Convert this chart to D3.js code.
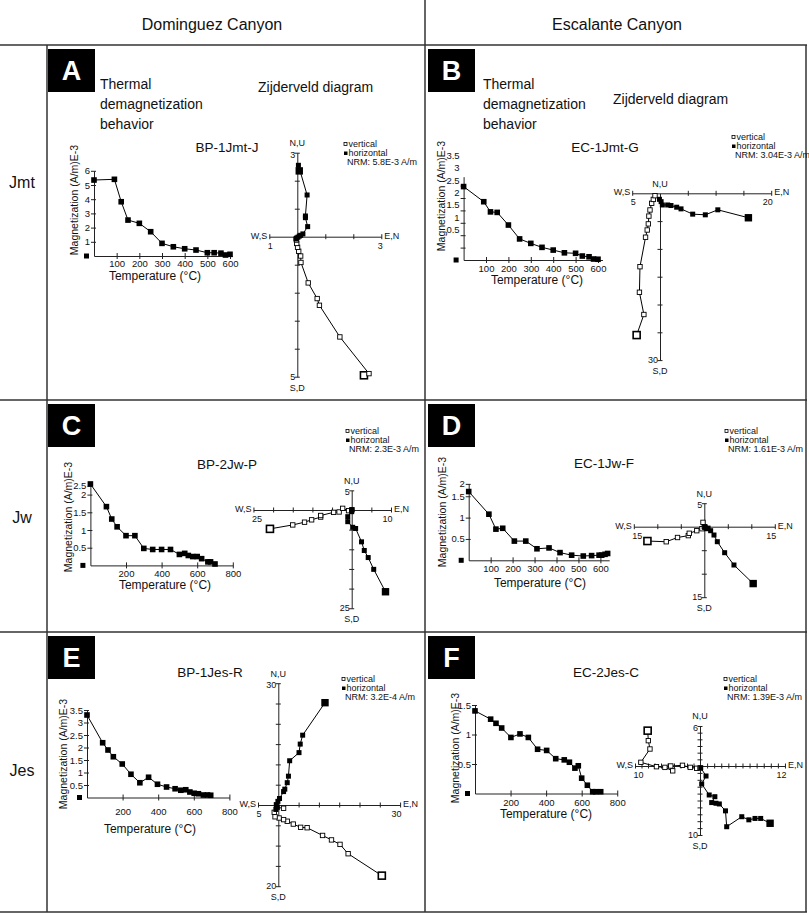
<!DOCTYPE html>
<html>
<head>
<meta charset="utf-8">
<script src="https://cdn.jsdelivr.net/npm/d3@7"></script>
<style>
  body { margin: 0; background: #fff; }
  svg { display: block; }
  text { font-family: 'Liberation Sans', Arial, sans-serif; fill: #111; }
</style>
</head>
<body>
<div id="chart"></div>
<script>
// Thermal demagnetization steps (°C) and magnetization (A/m E-3).
const tempA = [0, 90, 120, 150, 200, 250, 300, 350, 400, 450, 500, 530, 560, 580, 600];
const magA  = [5.35, 5.4, 3.82, 2.53, 2.3, 1.71, 0.89, 0.65, 0.51, 0.42, 0.23, 0.23, 0.2, 0.07, 0.12];
const tempB = [0, 90, 120, 150, 200, 250, 300, 350, 400, 450, 500, 530, 560, 580, 600];
const magB  = [2.96, 2.35, 1.94, 1.92, 1.41, 0.85, 0.67, 0.51, 0.4, 0.29, 0.27, 0.16, 0.13, 0.04, 0.03];
const tempC = [0, 90, 120, 150, 200, 250, 300, 350, 400, 450, 500, 530, 550, 575, 600, 625, 660, 675, 700];
const magC  = [2.3, 1.66, 1.31, 1.09, 0.84, 0.84, 0.48, 0.45, 0.45, 0.45, 0.31, 0.34, 0.28, 0.25, 0.25, 0.19, 0.1, 0.1, 0.04];
const tempD = [0, 92, 124, 155, 208, 260, 311, 366, 416, 469, 522, 560, 594, 606, 621, 633];
const magD  = [1.61, 1.08, 0.73, 0.75, 0.45, 0.45, 0.27, 0.29, 0.18, 0.12, 0.1, 0.11, 0.12, 0.12, 0.14, 0.16];
const tempE = [0, 88, 118, 148, 198, 247, 297, 346, 396, 447, 495, 527, 555, 578, 602, 626, 654, 677, 695];
const magE  = [3.3, 2.19, 1.9, 1.63, 1.34, 0.93, 0.59, 0.81, 0.53, 0.42, 0.35, 0.29, 0.31, 0.22, 0.17, 0.15, 0.1, 0.1, 0.09];
const tempF = [0, 88, 118, 150, 202, 253, 300, 352, 403, 454, 502, 531, 562, 581, 600, 632, 662, 679, 707];
const magF  = [1.4, 1.26, 1.19, 1.11, 0.95, 1.01, 0.95, 0.75, 0.73, 0.59, 0.57, 0.53, 0.43, 0.47, 0.26, 0.14, 0.03, 0.03, 0.03];

// Zijderveld points [E,N ; U,D], first point is the NRM.
const horizA = [[0.07,2.35],[0.04,2.55],[0.35,1.49],[0.29,0.74],[0.29,0.68],[0.37,0.36],[0.2,0.1],[0.12,0.05],[0.07,0.02],[0.02,-0.02],[-0.03,-0.05],[-0.05,-0.08]];
const vertA  = [[2.38,-4.95],[2.56,-4.89],[1.52,-3.58],[0.79,-2.45],[0.71,-2.21],[0.39,-1.65],[0.13,-0.92],[0.12,-0.69],[0.05,-0.52],[0.01,-0.38],[-0.02,-0.24],[-0.03,-0.12]];
const horizB = [[15.9,-4.4],[10.4,-2.97],[8.15,-3.87],[5.88,-3.75],[3.78,-2.8],[3.0,-2.5],[1.98,-2.2],[1.38,-2.1],[0.42,-2.1],[0.2,-1.5],[-0.1,-1.08]];
const vertB  = [[-4.2,-25.5],[-2.9,-21.8],[-3.7,-17.8],[-3.6,-13.2],[-2.6,-7.9],[-2.3,-6.6],[-2.1,-5.5],[-2.0,-4.1],[-1.8,-3.0],[-1.5,-1.8],[-1.2,-1.1],[-0.9,-0.43]];
const horizC = [[8.6,-20.8],[5.6,-15.1],[4.2,-12.1],[3.2,-10.3],[2.5,-8.1],[1.0,-4.7],[0.25,-4.4],[-1.0,-2.97],[-1.0,-1.7],[0,-0.43],[0.1,0.1]];
const vertC  = [[-20.8,-4.8],[-15.0,-3.8],[-12.0,-3.1],[-10.2,-2.5],[-7.9,-1.8],[-7.9,-1.4],[-4.6,-0.6],[-3.2,-0.5],[-2.3,0.42],[-0.8,-0.17],[0,0]];
const horizD = [[10.4,-12.1],[6.31,-8.15],[4.33,-5.53],[2.77,-3.19],[2.06,-1.77],[1.35,-0.85],[0.8,-0.3],[0.5,-0.43],[0.2,-0.05],[0.07,-0.14]];
const vertD  = [[-12.1,-3.05],[-8.1,-3.2],[-5.7,-2.3],[-3.4,-1.9],[-3.2,-1.4],[-1.6,-0.85],[-0.5,-0.43],[-0.28,0.92],[0,0]];
const horizE = [[11.5,25.2],[6.0,17.2],[5.4,15.0],[5.1,12.9],[2.8,10.9],[2.5,7.1],[2.2,5.5],[1.6,3.9],[1.3,3.3],[0.3,1.6],[-0.1,0.9],[-0.5,0.1],[-0.3,-0.5],[-0.6,-1.1]];
const vertE  = [[25.5,-17.4],[17.2,-12.0],[15.2,-9.7],[13.1,-8.6],[10.9,-7.5],[7.1,-5.6],[5.5,-5.5],[3.7,-4.7],[2.2,-4.0],[1.3,-3.6],[0.2,-3.2],[-0.8,-2.9],[-1.0,-1.8],[-0.3,-0.6],[1.3,-0.8]];
const horizF = [[9.9,-8.3],[8.57,-7.6],[7.77,-7.6],[6.9,-7.8],[5.9,-7.35],[3.77,-8.8],[3.6,-6.5],[2.73,-5.5],[2.26,-5.4],[1.65,-5.3],[2.1,-4.45],[1.3,-4.2],[0.24,-2.6],[0.85,-1.45],[0.1,-0.25]];
const vertF  = [[-8.05,5.3],[-7.95,3.8],[-7.7,2.55],[-9.1,0.55],[-6.7,-0.1],[-5.4,-0.2],[-4.2,-0.7],[-4.5,0],[-2.7,0.1],[-1.5,-0.2],[-0.5,-0.33],[0,-0.3]];

// Text.
const siteNames = ['Dominguez Canyon', 'Escalante Canyon'];
const unitNames = ['Jmt', 'Jw', 'Jes'];
const panelLetters = ['A', 'B', 'C', 'D', 'E', 'F'];
const sampleNames = ['BP-1Jmt-J', 'EC-1Jmt-G', 'BP-2Jw-P', 'EC-1Jw-F', 'BP-1Jes-R', 'EC-2Jes-C'];
const nrmLabels = ['NRM: 5.8E-3 A/m', 'NRM: 3.04E-3 A/m', 'NRM: 2.3E-3 A/m', 'NRM: 1.61E-3 A/m', 'NRM: 3.2E-4 A/m', 'NRM: 1.39E-3 A/m'];
// Tick labels.
const xTicksA = [100, 200, 300, 400, 500, 600];
const xTicksC = [200, 400, 600, 800];
const yTicksA = [1, 2, 3, 4, 5, 6];
const yTicksB = [0.5, 1, 1.5, 2, 2.5, 3];
const yLabelsB = ['0.5', '1', '1.5', '2', '2.5', '3', '3.5'];
const yTicksC = [0.5, 1, 1.5, 2, 2.25];
const yLabelsC = ['0.5', '1', '1.5', '2', '2.5'];
const yTicksD = [0.5, 1, 1.5, 1.79];
const yLabelsD = ['0.5', '1', '1.5', '2'];
const yTicksE = [0.5, 1, 1.5, 2, 2.5, 3, 3.5];
const yTicksF = [0.5, 1, 1.5];

const thermalData = [[tempA, magA], [tempB, magB], [tempC, magC], [tempD, magD], [tempE, magE], [tempF, magF]];
const zijData = [[horizA, vertA], [horizB, vertB], [horizC, vertC], [horizD, vertD], [horizE, vertE], [horizF, vertF]];

// Layout of the thermal plots (xTitle = centre x, baseline y).
const thermLayout = [
  { x0: 94, y0: 256, kx: 0.2267, ky: 14.2, xMax: 610, yMax: 6, xTicks: xTicksA, yTicks: yTicksA, pad: 1, yTitle: [78, 200], xTitle: [155, 280] },
  { x0: 463.6, y0: 260, kx: 0.224, ky: 24.8, xMax: 620, yMax: 3.36, xTicks: xTicksA, yTicks: yTicksB, yLabels: yLabelsB, labelShift: -18, pad: 2, yTitle: [445, 196], xTitle: [537, 284] },
  { x0: 90.4, y0: 565.4, kx: 0.178, ky: 35.4, xMax: 800, yMax: 2.25, xTicks: xTicksC, yTicks: yTicksC, yLabels: yLabelsC, pad: 1.5, yTitle: [72, 517], xTitle: [165, 589] },
  { x0: 468.7, y0: 560.3, kx: 0.2195, ky: 42.7, xMax: 640, yMax: 1.79, xTicks: xTicksA, yTicks: yTicksD, yLabels: yLabelsD, pad: 1.5, yTitle: [446, 512], xTitle: [540, 587] },
  { x0: 87, y0: 797.5, kx: 0.178, ky: 25, xMax: 800, yMax: 3.5, xTicks: xTicksC, yTicks: yTicksE, pad: 8, yTitle: [67, 754], xTitle: [150, 833] },
  { x0: 475, y0: 793.5, kx: 0.1778, ky: 59, xMax: 800, yMax: 1.5, xTicks: xTicksC, yTicks: yTicksF, pad: 3, yTitle: [459, 748], xTitle: [546, 818] }
];

// Layout of the Zijderveld plots.
const zijLayout = [
  { cx: 297.3, cy: 236.7, k: 28, left: 1, right: 3, up: 3, down: 5, step: 1, legend: [344, 144] },
  { cx: 660, cy: 193.3, k: 5.56, left: 5, right: 20, up: 0, down: 30, step: 5, legend: [732, 137] },
  { cx: 351.7, cy: 510, k: 3.93, left: 25, right: 10, up: 5, down: 25, step: 5, legend: [346, 431] },
  { cx: 704.3, cy: 526.7, k: 4.7, left: 15, right: 15, up: 5, down: 15, step: 5, legend: [725, 431] },
  { cx: 278.3, cy: 805, k: 4.06, left: 5, right: 30, up: 30, down: 20, step: 5, legend: [342, 679] },
  { cx: 700, cy: 766, kl: 6.5, kr: 7.08, ku: 6.67, kd: 6.9, left: 10, right: 12, up: 6, down: 10, step: 1, legend: [724, 679] }
];

// Panel frames.
const panelBox = [[48, 49], [428, 49], [48, 404], [428, 404], [48, 636], [428, 636]];
const titleY = [147, 147, 464, 463, 672, 672];
const titleX = [227, 605, 227, 604, 210, 606];

const width = 809;
const height = 915;
const ink = '#222';

const svg = d3.select('#chart')
              .append('svg')
              .attr('width', width)
              .attr('height', height);

svg.append('rect').attr('width', width).attr('height', height).attr('fill', '#fff');

// Grid lines.
const grid = svg.append('g').attr('stroke', '#333').attr('stroke-width', 1.5);
[45, 400, 632, 912].forEach((yy) => {
    grid.append('line').attr('x1', 0).attr('x2', 807).attr('y1', yy).attr('y2', yy);
});
grid.append('line').attr('x1', 425).attr('x2', 425).attr('y1', 0).attr('y2', 912);
grid.append('line').attr('x1', 47).attr('x2', 47).attr('y1', 45).attr('y2', 912);
grid.append('line').attr('x1', 806).attr('x2', 806).attr('y1', 45).attr('y2', 912);

// Column and row headers.
svg.selectAll('.site')
   .data(siteNames)
   .enter()
   .append('text')
   .attr('x', (d, i) => 212 + i * 405)
   .attr('y', 30)
   .attr('text-anchor', 'middle')
   .style('font-size', '16px')
   .text((d) => d);

svg.selectAll('.unit')
   .data(unitNames)
   .enter()
   .append('text')
   .attr('x', 22)
   .attr('y', (d, i) => [188, 523, 776][i])
   .attr('text-anchor', 'middle')
   .style('font-size', '16px')
   .text((d) => d);

// Letter boxes and sample titles.
panelLetters.forEach((letter, i) => {
    const [bx, by] = panelBox[i];
    svg.append('rect').attr('x', bx).attr('y', by).attr('width', 47).attr('height', 43).attr('fill', '#000');
    svg.append('text').attr('x', bx + 23.5).attr('y', by + 31).attr('text-anchor', 'middle')
       .style('font-size', '27px').style('font-weight', 'bold').style('fill', '#fff').text(letter);
    svg.append('text').attr('x', titleX[i]).attr('y', titleY[i] + 5).attr('text-anchor', 'middle')
       .style('font-size', '13.5px').text(sampleNames[i]);
});

// Row 1 captions.
const caption = ['Thermal', 'demagnetization', 'behavior'];
[[100, 84], [483, 84]].forEach(([cx, cy]) => {
    caption.forEach((t, j) => {
        svg.append('text').attr('x', cx).attr('y', cy + j * 20 + 5).style('font-size', '14px').text(t);
    });
});
svg.append('text').attr('x', 258).attr('y', 92).style('font-size', '14px').text('Zijderveld diagram');
svg.append('text').attr('x', 613).attr('y', 104).style('font-size', '14px').text('Zijderveld diagram');

function thermal(L, temps, mags) {
    const g = svg.append('g');
    const x = d3.scaleLinear().domain([0, L.xMax]).range([L.x0, L.x0 + L.xMax * L.kx]);
    const y = d3.scaleLinear().domain([0, L.yMax]).range([L.y0, L.y0 - L.yMax * L.ky]);

    const xa = g.append('g')
                .attr('transform', 'translate(0,' + L.y0 + ')')
                .call(d3.axisBottom(x).tickValues(L.xTicks).tickSize(3).tickSizeOuter(0).tickPadding(L.pad));
    xa.selectAll('.tick line').attr('y1', -3).attr('y2', 3);

    const ya = g.append('g')
                .attr('transform', 'translate(' + L.x0 + ',0)')
                .call(d3.axisLeft(y).tickValues(L.yTicks).tickSize(3).tickSizeOuter(0).tickPadding(1)
                        .tickFormat((d, i) => (L.yLabels && !L.labelShift) ? L.yLabels[i] : d));
    ya.selectAll('.tick line').attr('x1', 2).attr('x2', -3);

    if (L.labelShift) {
        // Tick labels drawn offset from their ticks, as in the figure.
        const lv = L.yLabels.map(Number);
        ya.selectAll('.tick text').remove();
        g.append('g')
         .attr('transform', 'translate(' + L.x0 + ',' + L.labelShift + ')')
         .call(d3.axisLeft(y).tickValues(lv).tickSize(0).tickPadding(4).tickFormat((d, i) => L.yLabels[i]))
         .call((a) => a.select('.domain').remove());
    }

    g.selectAll('.domain, .tick line').attr('stroke', ink);
    g.selectAll('.tick text').style('font-size', '9.5px').style('font-family', "'Liberation Sans', Arial, sans-serif").attr('fill', '#111');

    const pts = temps.map((t, i) => [t, mags[i]]);
    g.append('path')
     .datum(pts)
     .attr('fill', 'none')
     .attr('stroke', '#000')
     .attr('stroke-width', 1)
     .attr('d', d3.line().x((d) => x(d[0])).y((d) => y(d[1])));

    g.selectAll('.pt')
     .data(pts)
     .enter()
     .append('rect')
     .attr('x', (d) => x(d[0]) - 2.8)
     .attr('y', (d) => y(d[1]) - 2.8)
     .attr('width', 5.6)
     .attr('height', 5.6)
     .attr('fill', '#000');

    // Stray symbol left of the origin.
    g.append('rect')
     .attr('x', x(0) - 10).attr('y', y(0) - 2.5)
     .attr('width', 5).attr('height', 5).attr('fill', '#000');

    g.append('text')
     .attr('transform', 'translate(' + L.yTitle[0] + ',' + L.yTitle[1] + ') rotate(-90)')
     .attr('text-anchor', 'middle')
     .style('font-size', '10.5px')
     .text('Magnetization (A/m)E-3');
    g.append('text')
     .attr('x', L.xTitle[0]).attr('y', L.xTitle[1])
     .attr('text-anchor', 'middle')
     .style('font-size', '12px')
     .text('Temperature (°C)');
}

function polyScale(neg, pos, c, kn, kp, dir) {
    const dom = [], rng = [];
    if (neg > 0) { dom.push(-neg); rng.push(c - dir * neg * kn); }
    dom.push(0); rng.push(c);
    if (pos > 0) { dom.push(pos); rng.push(c + dir * pos * kp); }
    return d3.scaleLinear().domain(dom).range(rng);
}

function zij(L, hor, ver, nrm) {
    const g = svg.append('g');
    const x = polyScale(L.left, L.right, L.cx, L.kl || L.k, L.kr || L.k, 1);
    const y = polyScale(L.down, L.up, L.cy, L.kd || L.k, L.ku || L.k, -1);
    const fs = '9px';

    const xt = d3.range(-L.left, L.right + 1e-9, L.step).filter((v) => v !== 0);
    const yt = d3.range(-L.down, L.up + 1e-9, L.step).filter((v) => v !== 0);

    const ha = g.append('g')
                .attr('transform', 'translate(0,' + L.cy + ')')
                .call(d3.axisBottom(x).tickValues(xt).tickSize(3).tickSizeOuter(0).tickFormat(''));
    ha.selectAll('.tick line').attr('y1', -2.5).attr('y2', 2.5);
    const va = g.append('g')
                .attr('transform', 'translate(' + L.cx + ',0)')
                .call(d3.axisLeft(y).tickValues(yt).tickSize(3).tickSizeOuter(0).tickFormat(''));
    va.selectAll('.tick line').attr('x1', 2.5).attr('x2', -2.5);
    g.selectAll('.domain, .tick line').attr('stroke', ink);

    const lbl = (tx, ty, s, anchor) => g.append('text').attr('x', tx).attr('y', ty)
        .attr('text-anchor', anchor).style('font-size', fs).text(s);
    lbl(x(-L.left) - 2, L.cy + 2, 'W,S', 'end');
    lbl(x(-L.left) - 1.5, L.cy + 12, L.left, 'start');
    lbl(x(L.right) + 3, L.cy + 2, 'E,N', 'start');
    lbl(x(L.right) + 1.5, L.cy + 12, L.right, 'end');
    lbl(L.cx, y(L.up) - 6.5, 'N,U', 'middle');
    if (L.up > 0) lbl(L.cx - 2, y(L.up) + 5, L.up, 'end');
    lbl(L.cx - 2, y(-L.down) + 3, L.down, 'end');
    lbl(L.cx, y(-L.down) + 14, 'S,D', 'middle');

    const line = d3.line().x((d) => x(d[0])).y((d) => y(d[1]));
    g.append('path').datum(ver).attr('fill', 'none').attr('stroke', '#000').attr('d', line);
    g.append('path').datum(hor).attr('fill', 'none').attr('stroke', '#000').attr('d', line);

    g.selectAll('.vp')
     .data(ver)
     .enter()
     .append('rect')
     .attr('x', (d, i) => x(d[0]) - (i === 0 ? 3.5 : 2.2))
     .attr('y', (d, i) => y(d[1]) - (i === 0 ? 3.5 : 2.2))
     .attr('width', (d, i) => i === 0 ? 7 : 4.4)
     .attr('height', (d, i) => i === 0 ? 7 : 4.4)
     .attr('fill', '#fff')
     .attr('stroke', '#000')
     .attr('stroke-width', (d, i) => i === 0 ? 1.6 : 0.9);

    g.selectAll('.hp')
     .data(hor)
     .enter()
     .append('rect')
     .attr('x', (d, i) => x(d[0]) - (i === 0 ? 3.7 : 2.5))
     .attr('y', (d, i) => y(d[1]) - (i === 0 ? 3.7 : 2.5))
     .attr('width', (d, i) => i === 0 ? 7.4 : 5)
     .attr('height', (d, i) => i === 0 ? 7.4 : 5)
     .attr('fill', '#000');

    // Legend.
    const [lx, ly] = L.legend;
    g.append('rect').attr('x', lx).attr('y', ly - 1.5).attr('width', 3).attr('height', 3)
     .attr('fill', '#fff').attr('stroke', '#000').attr('stroke-width', 0.8);
    g.append('rect').attr('x', lx).attr('y', ly + 7.5).attr('width', 3.5).attr('height', 3.5).attr('fill', '#000');
    g.append('text').attr('x', lx + 4.5).attr('y', ly + 3.2).style('font-size', '9px').text('vertical');
    g.append('text').attr('x', lx + 4.5).attr('y', ly + 12.2).style('font-size', '9px').text('horizontal');
    g.append('text').attr('x', lx + 3).attr('y', ly + 21.2).style('font-size', '9px').text(nrm);
}

thermLayout.forEach((L, i) => thermal(L, thermalData[i][0], thermalData[i][1]));
zijLayout.forEach((L, i) => zij(L, zijData[i][0], zijData[i][1], nrmLabels[i]));
</script>
</body>
</html>
